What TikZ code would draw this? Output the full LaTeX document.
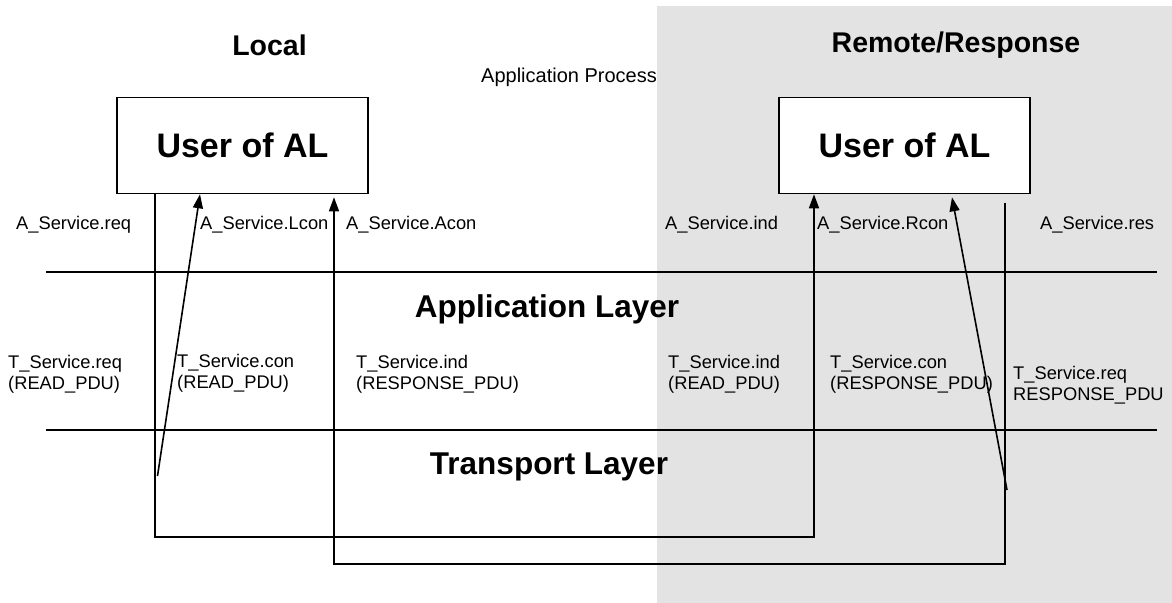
\documentclass[tikz,border=0pt]{standalone}
\usepackage{fontspec}
\setmainfont{Liberation Sans}
\usetikzlibrary{arrows.meta}
\begin{document}
\begin{tikzpicture}[x=1bp,y=-1bp,
  lbl/.style={inner sep=0pt,anchor=west,align=left,font=\fontsize{18.3bp}{21bp}\selectfont},
  ttl/.style={inner sep=0pt,font=\fontsize{28.5bp}{31bp}\selectfont\bfseries},
  layer/.style={inner sep=0pt,font=\fontsize{31.5bp}{34bp}\selectfont\bfseries},
  userbox/.style={draw,line width=1.6bp,fill=white,minimum width=251bp,minimum height=96bp,inner sep=0pt,font=\fontsize{34bp}{36bp}\selectfont\bfseries},
  sep/.style={line width=2.4bp},
  conn/.style={line width=1.6bp},
  arr/.style={conn,-{Triangle[length=14bp,width=10bp]}}]
\useasboundingbox (0,0) rectangle (1172,603);
\fill[fill={rgb,255:red,227;green,227;blue,227}] (657,6) rectangle (1172,603);

% titles
\node[ttl] (tlocal) at (269.5,45) {Local};
\node[ttl] (tremote) at (956,45) {Remote/Response};
\node[inner sep=0pt,font=\fontsize{20bp}{22bp}\selectfont] (tproc) at (569,77) {Application Process};

% boxes
\node[userbox] (ulocal) at (242.5,145.5) {User of AL};
\node[userbox] (uremote) at (904.5,145.5) {User of AL};

% layer separators
\coordinate (s1a) at (46,272); \coordinate (s1b) at (1157,272);
\coordinate (s2a) at (46,430); \coordinate (s2b) at (1157,430);
\draw[sep] (s1a) -- (s1b);
\draw[sep] (s2a) -- (s2b);

\node[layer] (appl) at (547,309) {Application Layer};
\node[layer] (trl) at (549,467) {Transport Layer};

% A_Service labels
\node[lbl] (areq) at (16,225) {A\_Service.req};
\node[lbl] (alcon) at (200,225) {A\_Service.Lcon};
\node[lbl] (aacon) at (346,225) {A\_Service.Acon};
\node[lbl] (aind) at (665,225) {A\_Service.ind};
\node[lbl] (arcon) at (817,225) {A\_Service.Rcon};
\node[lbl] (ares) at (1040,225) {A\_Service.res};

% T_Service labels
\node[lbl] (treq) at (8,374.5) {T\_Service.req\\(READ\_PDU)};
\node[lbl] (tcon) at (177,373) {T\_Service.con\\(READ\_PDU)};
\node[lbl] (tind) at (356,374.5) {T\_Service.ind\\(RESPONSE\_PDU)};
\node[lbl] (tind2) at (668,374.5) {T\_Service.ind\\(READ\_PDU)};
\node[lbl] (tcon2) at (830,374.5) {T\_Service.con\\(RESPONSE\_PDU)};
\node[lbl] (treq2) at (1013,385) {T\_Service.req\\RESPONSE\_PDU};

% connector points
\coordinate (p1) at (155,537);
\coordinate (p2) at (814,537);
\coordinate (q0) at (1005,203);
\coordinate (q1) at (1005,564);
\coordinate (q2) at (334,564);
\coordinate (lc) at (157.5,476);
\coordinate (rc) at (1007,490);

% request path local -> remote (indication)
\draw[arr] (ulocal.south -| p1) -- (p1) -- (p2) -- (uremote.south -| p2);
% local confirmation
\draw[arr] (lc) -- (ulocal.south -| 200,0);
% response path remote -> local (Acon)
\draw[arr] (q0) -- (q1) -- (q2) -- ([yshift=-3bp]ulocal.south -| q2);
% remote confirmation
\draw[arr] (rc) -- ([yshift=-3bp]uremote.south -| 952,0);
\end{tikzpicture}
\end{document}
